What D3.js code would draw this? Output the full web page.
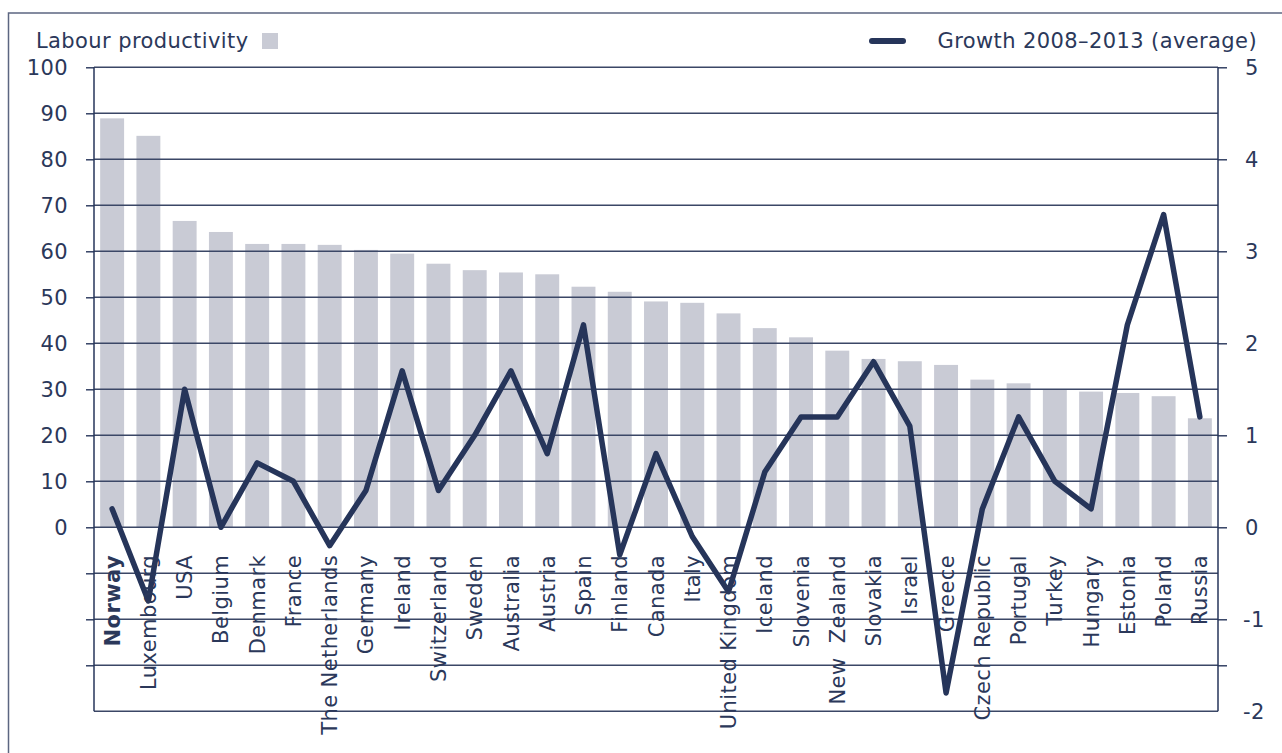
<!DOCTYPE html>
<html>
<head>
<meta charset="utf-8">
<script src="https://cdn.jsdelivr.net/npm/d3@7"></script>
<style>
  html, body { margin: 0; padding: 0; background: #ffffff; }
  svg { display: block; }
  text { font-family: "DejaVu Sans", Verdana, sans-serif; fill: #2b385a; letter-spacing: 0.4px; }
</style>
</head>
<body>
<svg id="chart" width="1282" height="753"></svg>
<script>
// ---- data ----
const countries = ["Norway","Luxembourg","USA","Belgium","Denmark","France","The Netherlands","Germany","Ireland","Switzerland","Sweden","Australia","Austria","Spain","Finland","Canada","Italy","United Kingdom","Iceland","Slovenia","New  Zealand","Slovakia","Israel","Greece","Czech Republic","Portugal","Turkey","Hungary","Estonia","Poland","Russia"];
const productivity = [88.9,85.1,66.6,64.2,61.6,61.6,61.4,60.3,59.5,57.3,55.9,55.4,55.0,52.3,51.2,49.1,48.8,46.5,43.3,41.3,38.4,36.6,36.1,35.3,32.1,31.3,29.9,29.5,29.2,28.5,23.7];
const growth = [0.2,-0.8,1.5,0.0,0.7,0.5,-0.2,0.4,1.7,0.4,1.0,1.7,0.8,2.2,-0.3,0.8,-0.1,-0.7,0.6,1.2,1.2,1.8,1.1,-1.8,0.2,1.2,0.5,0.2,2.2,3.4,1.2];
const leftTickLabels = [0,10,20,30,40,50,60,70,80,90,100];
const leftTickMarks = [-30,-20,-10,0,10,20,30,40,50,60,70,80,90,100];
const rightTickLabels = [-2,-1,0,1,2,3,4,5];
const rightTickMarks = [-1.5,-1,0,1,2,3,4,5];
const gridValues = [-40,-30,-20,-10,0,10,20,30,40,50,60,70,80,90,100];
const legendBar = "Labour productivity";
const legendLine = "Growth 2008\u20132013 (average)";

// ---- layout ----
const svg = d3.select("#chart");
const X0 = 94, X1 = 1218, YT = 67.3, YB = 711.3;
const navy = "#26355a";
const barColor = "#c9cbd5";
const FS = 21;

const x = d3.scaleBand().domain(countries).range([X0, X1]).paddingInner(0.34).paddingOuter(0.17);
const yL = d3.scaleLinear().domain([-40, 100]).range([YB, YT]);
const yR = d3.scaleLinear().domain([-2, 5]).range([YB, YT]);

// outer frame
svg.append("rect").attr("x", 8.5).attr("y", 13).attr("width", 1300).attr("height", 800)
  .attr("fill", "none").attr("stroke", "#5c6681").attr("stroke-width", 1.5);

// bars
svg.append("g").selectAll("rect").data(countries).join("rect")
  .attr("x", d => x(d))
  .attr("width", x.bandwidth())
  .attr("y", (d, i) => yL(productivity[i]))
  .attr("height", (d, i) => yL(0) - yL(productivity[i]))
  .attr("fill", barColor);

// gridlines (drawn over bars)
svg.append("g").selectAll("line").data(gridValues).join("line")
  .attr("x1", X0).attr("x2", X1)
  .attr("y1", d => yL(d)).attr("y2", d => yL(d))
  .attr("stroke", "#3b4766").attr("stroke-width", 1.4);

// left axis
const gl = svg.append("g").attr("transform", `translate(${X0},0)`);
gl.call(d3.axisLeft(yL).tickValues(leftTickMarks).tickSize(8).tickFormat(""));
gl.select(".domain").remove();
gl.selectAll(".tick line").attr("stroke", navy).attr("stroke-width", 1.4);
gl.append("line").attr("x1", 0).attr("x2", 0).attr("y1", YT).attr("y2", YB)
  .attr("stroke", navy).attr("stroke-width", 1.5);
svg.append("g").selectAll("text").data(leftTickLabels).join("text")
  .attr("x", 68).attr("y", d => yL(d)).attr("dy", "0.36em")
  .attr("text-anchor", "end").attr("font-size", FS).text(d => d);

// right axis
const gr = svg.append("g").attr("transform", `translate(${X1},0)`);
gr.call(d3.axisRight(yR).tickValues(rightTickMarks).tickSize(9).tickFormat(""));
gr.select(".domain").remove();
gr.selectAll(".tick line").attr("stroke", navy).attr("stroke-width", 1.4);
gr.append("line").attr("x1", 0).attr("x2", 0).attr("y1", YT).attr("y2", YB)
  .attr("stroke", navy).attr("stroke-width", 1.5);
svg.append("g").selectAll("text").data(rightTickLabels).join("text")
  .attr("x", d => d < 0 ? 1243 : 1245).attr("y", d => yR(d)).attr("dy", "0.36em")
  .attr("text-anchor", "start").attr("font-size", FS).text(d => d);

// line
const line = d3.line().x((d, i) => x(countries[i]) + x.bandwidth() / 2).y(d => yR(d));
svg.append("path").datum(growth).attr("d", line)
  .attr("fill", "none").attr("stroke", navy).attr("stroke-width", 5.5)
  .attr("stroke-linejoin", "round").attr("stroke-linecap", "round");

// category labels (rotated)
svg.append("g").selectAll("text").data(countries).join("text")
  .attr("transform", d => `translate(${x(d) + x.bandwidth() / 2},555) rotate(-90)`)
  .attr("text-anchor", "end").attr("dy", "0.36em")
  .attr("font-size", FS)
  .attr("font-weight", (d, i) => i === 0 ? "bold" : "normal")
  .style("white-space", "pre")
  .text(d => d);

// legend
svg.append("text").attr("x", 36).attr("y", 48).attr("font-size", FS).text(legendBar);
svg.append("rect").attr("x", 262).attr("y", 33).attr("width", 16).attr("height", 16).attr("fill", barColor);
svg.append("line").attr("x1", 872).attr("x2", 903).attr("y1", 41).attr("y2", 41)
  .attr("stroke", navy).attr("stroke-width", 6).attr("stroke-linecap", "round");
svg.append("text").attr("x", 1257).attr("y", 48).attr("text-anchor", "end").attr("font-size", FS).text(legendLine);
</script>
</body>
</html>
